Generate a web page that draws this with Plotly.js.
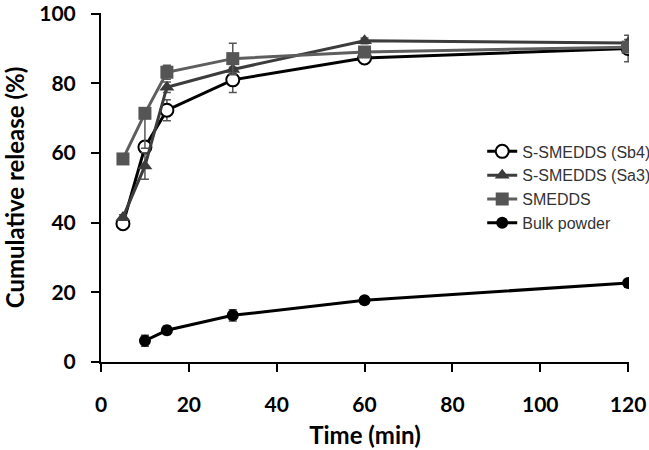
<!DOCTYPE html>
<html>
<head>
<meta charset="utf-8">
<script src="https://cdn.plot.ly/plotly-3.0.1.min.js"></script>
<style>html,body{margin:0;padding:0;background:#fff;}#chart{width:649px;height:450px;}</style>
</head>
<body>
<div id="chart"></div>
<script>
const time = [5, 10, 15, 30, 60, 120];
const timeBulk = [10, 15, 30, 60, 120];
const sb4 = [39.7, 61.7, 72.3, 81.0, 87.3, 90.0];
const sb4Err = [0.8, 1.5, 3.0, 3.6, 1.0, 3.8];
const sa3 = [41.5, 56.3, 78.9, 84.0, 92.2, 91.6];
const sa3Err = [0.8, 3.8, 1.5, 1.5, 0.8, 1.0];
const smedds = [58.3, 71.4, 83.2, 87.1, 89.0, 90.4];
const smeddsErrPlus = [0.8, 0, 2.0, 4.4, 0.8, 1.0];
const smeddsErrMinus = [0.8, 10.0, 2.0, 4.4, 0.8, 1.0];
const bulk = [6.1, 9.1, 13.4, 17.7, 22.7];
const bulkErr = [1.6, 1.2, 1.6, 1.0, 0.6];
const names = ['S-SMEDDS (Sb4)', 'S-SMEDDS (Sa3)', 'SMEDDS', 'Bulk powder'];
const xTicks = [0, 20, 40, 60, 80, 100, 120];
const yTicks = [0, 20, 40, 60, 80, 100];

const errStyle = (arr, minus, color) => ({
  type: 'data', array: arr, arrayminus: minus || arr, symmetric: !minus,
  visible: true, color: color, thickness: 1.5, width: 4
});

const traces = [
  {x: time, y: sb4, name: names[0], legendgroup: 'a', mode: 'lines+markers',
   line: {color: '#000000', width: 3},
   marker: {symbol: 'circle', size: 13, color: '#ffffff', line: {color: '#000000', width: 2}},
   error_y: errStyle(sb4Err, null, '#555555')},
  {x: time, y: sa3, name: names[1], legendgroup: 'b', mode: 'lines+markers',
   line: {color: '#3c3c3c', width: 3},
   marker: {symbol: 'triangle-up', size: 13, color: '#3c3c3c'},
   error_y: errStyle(sa3Err, null, '#555555')},
  {x: time, y: smedds, name: names[2], legendgroup: 'c', mode: 'lines+markers',
   line: {color: '#5e5e5e', width: 3},
   marker: {symbol: 'square', size: 13, color: '#555555'},
   error_y: errStyle(smeddsErrPlus, smeddsErrMinus, '#555555')},
  {x: timeBulk, y: bulk, name: names[3], legendgroup: 'd', mode: 'lines+markers',
   line: {color: '#000000', width: 3},
   marker: {symbol: 'circle', size: 12, color: '#000000'},
   error_y: errStyle(bulkErr, null, '#444444')}
];

const tickFont = {family: 'Lato, "Open Sans", sans-serif', size: 21, color: '#000000', weight: 'bold'};
const titleFont = {family: 'Lato, "Open Sans", sans-serif', size: 24, color: '#000000', weight: 'bold'};

const layout = {
  width: 649, height: 450,
  margin: {l: 101, r: 20, t: 13, b: 88, autoexpand: false},
  paper_bgcolor: '#ffffff', plot_bgcolor: '#ffffff',
  showlegend: true,
  legend: {x: 0.722, y: 0.652, xanchor: 'left', yanchor: 'top',
           font: {family: '"Liberation Sans", Arial, sans-serif', size: 16, color: '#333333'},
           tracegroupgap: 0, bgcolor: 'rgba(0,0,0,0)'},
  xaxis: {range: [0, 120.2], tickmode: 'array', tickvals: xTicks, automargin: false,
          showgrid: false, zeroline: false, showline: true, linecolor: '#000000', linewidth: 2,
          ticks: 'outside', ticklen: 8, tickwidth: 2, tickcolor: '#000000',
          ticklabelstandoff: 15, ticklabeloverflow: 'allow',
          tickfont: tickFont,
          title: {text: 'Time (min)', font: titleFont, standoff: 12}},
  yaxis: {range: [0, 100.2], tickmode: 'array', tickvals: yTicks, automargin: false,
          showgrid: false, zeroline: false, showline: true, linecolor: '#000000', linewidth: 2,
          ticks: 'outside', ticklen: 8, tickwidth: 2, tickcolor: '#000000',
          ticklabelstandoff: 11, ticklabeloverflow: 'allow',
          tickfont: tickFont,
          title: {text: 'Cumulative release (%)', font: titleFont, standoff: 18}}
};

Plotly.newPlot('chart', traces, layout, {displayModeBar: false, staticPlot: true});
</script>
</body>
</html>
